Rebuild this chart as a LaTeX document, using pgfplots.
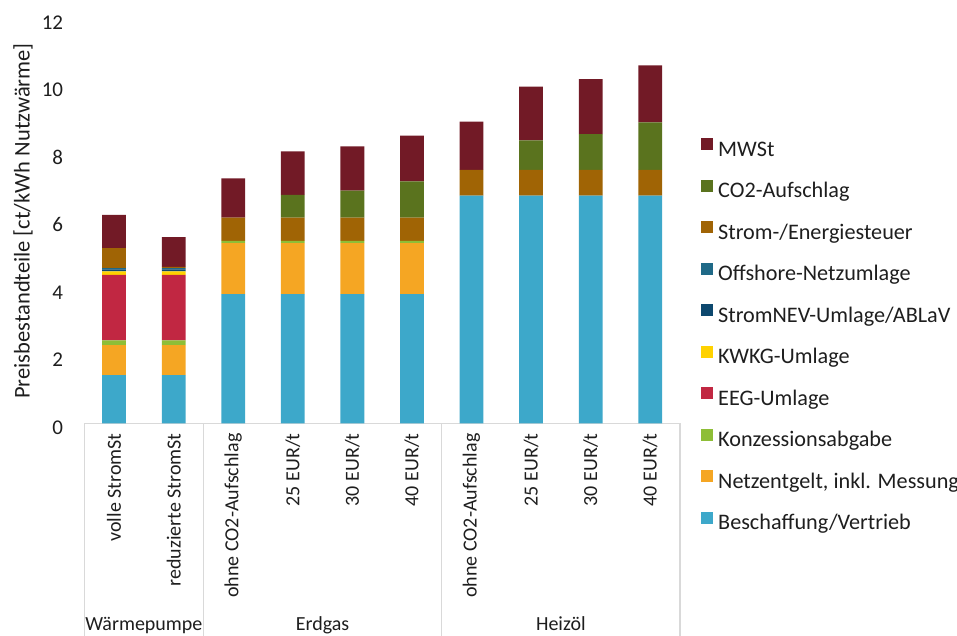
\documentclass[border=0pt]{standalone}
\usepackage{pgfplots}
\pgfplotsset{compat=1.18}
\usepackage{fontspec}
\setmainfont{Carlito}
\definecolor{cBesch}{RGB}{61,168,202}
\definecolor{cNetz}{RGB}{245,166,35}
\definecolor{cKonz}{RGB}{142,190,55}
\definecolor{cEEG}{RGB}{193,39,66}
\definecolor{cKWKG}{RGB}{255,210,0}
\definecolor{cNEV}{RGB}{13,72,110}
\definecolor{cOff}{RGB}{31,105,135}
\definecolor{cSteuer}{RGB}{160,100,5}
\definecolor{cCO}{RGB}{90,115,30}
\definecolor{cMWSt}{RGB}{114,26,38}
\definecolor{tc}{RGB}{30,30,30}
\definecolor{lc}{RGB}{217,217,217}
\begin{document}
\fontsize{21}{25}\selectfont
\begin{tikzpicture}
\begin{axis}[
  at={(0pt,0pt)}, anchor=south west,
  scale only axis, width=595.7pt, height=404.8pt,
  xmin=-0.5, xmax=9.5, ymin=0, ymax=12,
  ybar stacked, bar width=23.8pt,
  axis line style={draw=none},
  ytick={0,2,...,12},
  xtick={0,...,9},
  xticklabels={volle StromSt, reduzierte StromSt, ohne CO2-Aufschlag, 25 EUR/t, 30 EUR/t, 40 EUR/t, ohne CO2-Aufschlag, 25 EUR/t, 30 EUR/t, 40 EUR/t},
  major tick length=0pt,
  tick label style={text=tc},
  xticklabel style={rotate=90, anchor=east, inner sep=0pt, font=\fontsize{20}{24}\selectfont},
  xticklabel shift=10pt,
  yticklabel style={anchor=east, inner sep=0pt, yshift=-4pt},
  yticklabel shift=21pt,
  /pgf/number format/assume math mode=true,
  ylabel={Preisbestandteile [ct/kWh Nutzwärme]},
  every axis y label/.style={at={(axis description cs:-0.1029,0.5)}, rotate=90, anchor=center, text=tc, font=\fontsize{22.5}{27}\selectfont},
  clip=false,
  reverse legend,
  legend cell align=left,
  legend style={draw=none, fill=none, at={(rel axis cs:1.0352,0.214)}, anchor=west, inner sep=0pt, outer sep=0pt,
    font=\fontsize{22.2}{26}\selectfont,
    nodes={inner sep=0pt, text height=16pt, text depth=5pt, text=tc}, row sep=18.5pt, column sep=5.5pt},
  legend image code/.code={\fill[#1] (0pt,0.8pt) rectangle (11.7pt,12.5pt);},
]
\addplot[fill=cBesch, draw=none] coordinates {(0,1.43) (1,1.43) (2,3.83) (3,3.83) (4,3.83) (5,3.83) (6,6.75) (7,6.75) (8,6.75) (9,6.75)};
\addlegendentry{Beschaffung/Vertrieb}
\addplot[fill=cNetz, draw=none] coordinates {(0,0.89) (1,0.89) (2,1.51) (3,1.51) (4,1.51) (5,1.51) (6,0) (7,0) (8,0) (9,0)};
\addlegendentry{Netzentgelt, inkl. Messung}
\addplot[fill=cKonz, draw=none] coordinates {(0,0.14) (1,0.14) (2,0.07) (3,0.07) (4,0.07) (5,0.07) (6,0) (7,0) (8,0) (9,0)};
\addlegendentry{Konzessionsabgabe}
\addplot[fill=cEEG, draw=none] coordinates {(0,1.94) (1,1.94) (2,0) (3,0) (4,0) (5,0) (6,0) (7,0) (8,0) (9,0)};
\addlegendentry{EEG-Umlage}
\addplot[fill=cKWKG, draw=none] coordinates {(0,0.10) (1,0.10) (2,0) (3,0) (4,0) (5,0) (6,0) (7,0) (8,0) (9,0)};
\addlegendentry{KWKG-Umlage}
\addplot[fill=cNEV, draw=none] coordinates {(0,0.06) (1,0.06) (2,0) (3,0) (4,0) (5,0) (6,0) (7,0) (8,0) (9,0)};
\addlegendentry{StromNEV-Umlage/ABLaV}
\addplot[fill=cOff, draw=none] coordinates {(0,0.04) (1,0.04) (2,0) (3,0) (4,0) (5,0) (6,0) (7,0) (8,0) (9,0)};
\addlegendentry{Offshore-Netzumlage}
\addplot[fill=cSteuer, draw=none] coordinates {(0,0.59) (1,0.04) (2,0.69) (3,0.69) (4,0.69) (5,0.69) (6,0.76) (7,0.76) (8,0.76) (9,0.76)};
\addlegendentry{Strom-/Energiesteuer}
\addplot[fill=cCO, draw=none] coordinates {(0,0) (1,0) (2,0) (3,0.67) (4,0.80) (5,1.07) (6,0) (7,0.88) (8,1.06) (9,1.41)};
\addlegendentry{CO2-Aufschlag}
\addplot[fill=cMWSt, draw=none] coordinates {(0,0.99) (1,0.88) (2,1.16) (3,1.29) (4,1.31) (5,1.36) (6,1.43) (7,1.59) (8,1.63) (9,1.69)};
\addlegendentry{MWSt}
\draw[lc, line width=1.2pt] (axis cs:-0.5,0) -- (axis cs:9.5,0);
\draw[lc, line width=1.2pt] (axis cs:-0.5,0) -- (axis cs:-0.5,-6.4);
\draw[lc, line width=1.2pt] (axis cs:1.5,0) -- (axis cs:1.5,-6.4);
\draw[lc, line width=1.2pt] (axis cs:5.5,0) -- (axis cs:5.5,-6.4);
\draw[lc, line width=1.2pt] (axis cs:9.5,0) -- (axis cs:9.5,-6.4);
\node[anchor=base, text=tc, inner sep=0pt, font=\fontsize{20}{24}\selectfont] at (axis cs:0.5,-6.13) {Wärmepumpe};
\node[anchor=base, text=tc, inner sep=0pt, font=\fontsize{20}{24}\selectfont] at (axis cs:3.5,-6.13) {Erdgas};
\node[anchor=base, text=tc, inner sep=0pt, font=\fontsize{20}{24}\selectfont] at (axis cs:7.5,-6.13) {Heizöl};
\end{axis}
\pgfresetboundingbox
\useasboundingbox (-84.3pt,-212.7pt) rectangle (872.7pt,423.3pt);
\end{tikzpicture}
\end{document}
